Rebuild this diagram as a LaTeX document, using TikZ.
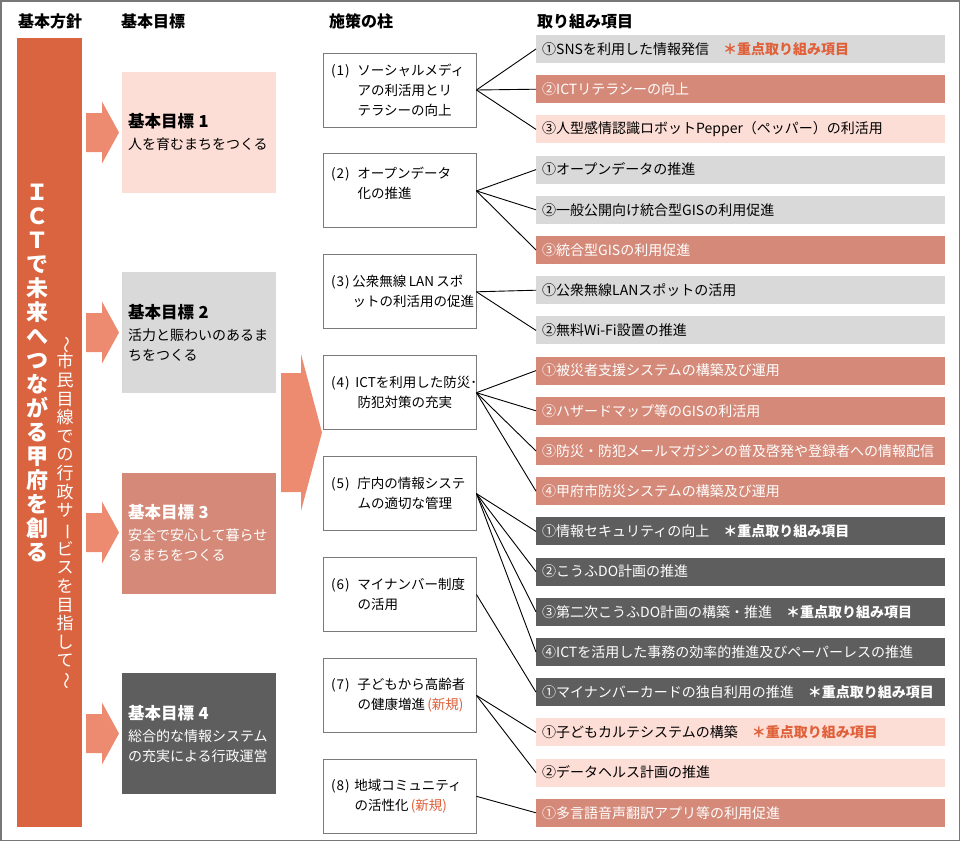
\documentclass[tikz,border=0pt]{standalone}
\usepackage{fontspec}
\setmainfont{Noto Sans CJK JP}
\usepackage{graphicx}
\usepackage{tikz}
\usetikzlibrary{positioning}
\definecolor{barred}{HTML}{DA6440}
\definecolor{arrowred}{HTML}{EC8B70}
\definecolor{pinkpale}{HTML}{FDDED6}
\definecolor{salmon}{HTML}{D58A79}
\definecolor{greypale}{HTML}{D9D9D9}
\definecolor{greydark}{HTML}{5E5E5E}
\definecolor{marked}{HTML}{E0603A}
\definecolor{framegrey}{HTML}{777777}
\definecolor{boxline}{HTML}{7A7A7A}
\newcommand\pn[2][28pt]{\makebox[#1][l]{\hspace{1.5pt}(\kern1pt#2\kern1pt)}}
\newcommand\pind[1][28pt]{\hspace*{#1}}
\newcommand\mk[1]{{\bfseries\color{marked}#1}}
\newcommand\mkw[1]{{\bfseries#1}}
\newcommand\gtitle[1]{{\bfseries\fontsize{16.5}{22}\selectfont #1}}
\newcommand\vbar{\rotatebox[origin=c]{-90}{ー}}
\newcommand\vwave{\rotatebox[origin=c]{-90}{～}}

\begin{document}
\begin{tikzpicture}[x=1pt,y=-1pt,
 hd/.style={font=\bfseries\fontsize{16}{18}\selectfont,inner sep=0},
 goal/.style={minimum width=154,minimum height=121,text width=142,inner xsep=6,inner ysep=0,align=left,font=\fontsize{14}{20}\selectfont},
 pil/.style={draw=boxline,line width=0.9,fill=white,minimum width=153,minimum height=74,text width=140,inner xsep=6.5,inner ysep=0,align=left,font=\fontsize{13.5}{20}\selectfont},
 itm/.style={anchor=west,minimum width=409,minimum height=28,text width=397,inner xsep=6,inner ysep=0,align=left,font=\fontsize{14}{16}\selectfont},
 itgrey/.style={fill=greypale},
 itsalmon/.style={fill=salmon,text=white},
 itpink/.style={fill=pinkpale},
 itdark/.style={fill=greydark,text=white},
 vt/.style={align=center,text=white,inner sep=0},
 ln/.style={line width=0.9,black}]
 \useasboundingbox (0,0) rectangle (960,841);
 \draw[framegrey,line width=1.5] (0.75,0.75) rectangle (959.25,840.25);
 % column heads
 \node[hd] (h1) at (50,21) {基本方針};
 \node[hd,anchor=west] (h2) at (121,21) {基本目標};
 \node[hd,anchor=west] (h3) at (329,21) {施策の柱};
 \node[hd,anchor=west] (h4) at (537,21) {取り組み項目};
 % basic policy
 \node[fill=barred,minimum width=65,minimum height=789,inner sep=0] (bar) at (49.5,432.5) {};
 \node[vt,font=\bfseries\fontsize{22}{24}\selectfont] (pol) at (37,373)
  {Ｉ\\Ｃ\\Ｔ\\で\\未\\来\\へ\\つ\\な\\が\\る\\甲\\府\\を\\創\\る};
 \node[vt,font=\fontsize{17}{18.6}\selectfont] (sub) at (65,513)
  {\vwave\\市\\民\\目\\線\\で\\の\\行\\政\\サ\\\vbar\\ビ\\ス\\を\\目\\指\\し\\て\\\vwave};
 % goals
 \node[goal,fill=pinkpale] (g1) at (199,132.5) {\gtitle{基本目標 1}\\[2pt]人を育むまちをつくる};
 \node[goal,fill=greypale,below=79pt of g1] (g2) {\gtitle{基本目標 2}\\[2pt]活力と賑わいのあるま\\ちをつくる};
 \node[goal,fill=salmon,text=white,below=79pt of g2] (g3) {\gtitle{基本目標 3}\\[2pt]安全で安心して暮らせ\\るまちをつくる};
 \node[goal,fill=greydark,text=white,below=79pt of g3] (g4) {\gtitle{基本目標 4}\\[2pt]総合的な情報システム\\の充実による行政運営};
 \foreach \y in {132.5,332.5,532.5,733.5}
  \fill[arrowred] (86,{\y-19.5}) -- (102,{\y-19.5}) -- (102,{\y-31}) -- (119,\y) -- (102,{\y+31}) -- (102,{\y+19.5}) -- (86,{\y+19.5}) -- cycle;
 \fill[arrowred] (281,373) -- (301,373) -- (301,354) -- (322,432.5) -- (301,511) -- (301,492) -- (281,492) -- cycle;
 % pillars
 \node[pil] (p1) at (399.5,90) {\pn{1}ソーシャルメディ\\\pind アの利活用とリ\\\pind テラシーの向上};
 \node[pil,below=26pt of p1] (p2) {\pn{2}オープンデータ\\\pind 化の推進\\[-4pt]~};
 \node[pil,below=26pt of p2] (p3) {\pn[23pt]{3}公衆無線\,LAN\,スポ\\\pind[23pt]ットの利活用の促進};
 \node[pil,below=26pt of p3] (p4) {\pn[26pt]{4}ICTを利用した防災･\\\pind 防犯対策の充実};
 \node[pil,below=26pt of p4] (p5) {\pn{5}庁内の情報システ\\\pind ムの適切な管理};
 \node[pil,below=26pt of p5] (p6) {\pn{6}マイナンバー制度\\\pind の活用};
 \node[pil,below=26pt of p6] (p7) {\pn{7}子どもから高齢者\\\pind の健康増進\,{\color{marked}(新規)}};
 \node[pil,below=26pt of p7] (p8) {\pn[25pt]{8}地域コミュニティ\\\pind[25pt]の活性化\,{\color{marked}(新規)}};
 % items
 \foreach \s/\t [count=\k] in {
  itgrey/{①SNSを利用した情報発信　\mk{＊重点取り組み項目}},
  itsalmon/{②ICTリテラシーの向上},
  itpink/{③人型感情認識ロボットPepper（ペッパー）の利活用},
  itgrey/{①オープンデータの推進},
  itgrey/{②一般公開向け統合型GISの利用促進},
  itsalmon/{③統合型GISの利用促進},
  itgrey/{①公衆無線LANスポットの活用},
  itgrey/{②無料Wi-Fi設置の推進},
  itsalmon/{①被災者支援システムの構築及び運用},
  itsalmon/{②ハザードマップ等のGISの利活用},
  itsalmon/{③防災・防犯メールマガジンの普及啓発や登録者への情報配信},
  itsalmon/{④甲府市防災システムの構築及び運用},
  itdark/{①情報セキュリティの向上　\mkw{＊重点取り組み項目}},
  itdark/{②こうふDO計画の推進},
  itdark/{③第二次こうふDO計画の構築・推進　\mkw{＊重点取り組み項目}},
  itdark/{④ICTを活用した事務の効率的推進及びペーパーレスの推進},
  itdark/{①マイナンバーカードの独自利用の推進　\mkw{＊重点取り組み項目}},
  itpink/{①子どもカルテシステムの構築　\mk{＊重点取り組み項目}},
  itpink/{②データヘルス計画の推進},
  itsalmon/{①多言語音声翻訳アプリ等の利用促進}}
  \node[itm,\s] (i\k) at (536,{49+40.2*(\k-1)}) {\t};
 \foreach \a/\b in {p1/i1,p1/i2,p1/i3,p2/i4,p2/i5,p2/i6,p3/i7,p3/i8,p4/i9,p4/i10,p4/i11,p4/i12,
  p5/i13,p5/i14,p5/i15,p5/i16,p6/i17,p7/i18,p7/i19,p8/i20}
  \draw[ln] (\a.east) -- (\b.west);
\end{tikzpicture}
\end{document}
